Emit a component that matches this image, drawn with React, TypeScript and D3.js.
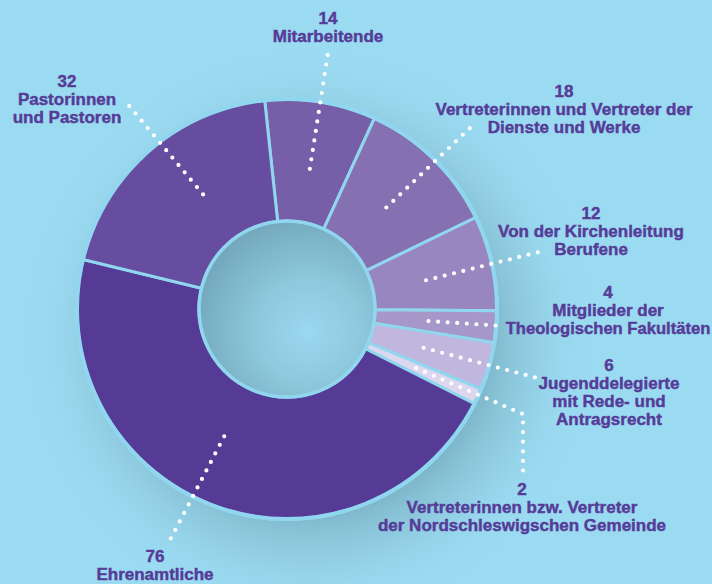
import React, { useEffect } from "react";
import * as d3 from "d3";

const categories = [
  "Mitarbeitende",
  "Vertreter Dienste und Werke",
  "Kirchenleitung",
  "Theologische Fakultäten",
  "Jugenddelegierte",
  "Nordschleswig",
  "Ehrenamtliche",
  "Pastoren",
];
const values = [14, 18, 12, 4, 6, 2, 76, 32];
const labelLines: string[][] = [
  ["14", "Mitarbeitende"],
  ["18", "Vertreterinnen und Vertreter der", "Dienste und Werke"],
  ["12", "Von der Kirchenleitung", "Berufene"],
  ["4", "Mitglieder der", "Theologischen Fakultäten"],
  ["6", "Jugenddelegierte", "mit Rede- und", "Antragsrecht"],
  ["2", "Vertreterinnen bzw. Vertreter", "der Nordschleswigschen Gemeinde"],
  ["76", "Ehrenamtliche"],
  ["32", "Pastorinnen", "und Pastoren"],
];
const colors = ["#765ea9", "#8571b2", "#9886c0", "#a697c9", "#c1b6dd", "#dcd6ee", "#553a96", "#674d9f"];

// layout (label anchor positions, leader end points)
const labelPos: [number, number][] = [
  [328, 18], [564, 91], [591, 213], [608, 292], [609, 365], [522, 489], [155, 556], [67, 81],
];
const leaderEnd: [number, number][][] = [
  [[328, 53]], [[471, 127]], [[539, 252]], [[503, 326]], [[537, 378]], [[523, 414], [523, 472]], [[170, 540]], [[126, 102]],
];
const anchorAngleNudge = [0, 0, 1, 0, 0, 0, 6, 5];

const W = 712, H = 584;
const cx = 287, cy = 309;
const rOuter = 210, rInner = 88;

export default function App() {
  useEffect(() => {
    document.body.style.margin = "0";
  }, []);
  const startAngle = -6.1 * Math.PI / 180;
  const pie = d3.pie<number>().sort(null).value((d) => d)
    .startAngle(startAngle).endAngle(startAngle + 2 * Math.PI);
  const arcs = pie(values);
  const arc = d3.arc<d3.PieArcDatum<number>>().innerRadius(rInner).outerRadius(rOuter);
  const textColor = "#563c98";

  return (
    <svg width={W} height={H} style={{ display: "block", fontFamily: "Liberation Sans, Arial, sans-serif" }}>
      <defs>
        <radialGradient id="halo" cx={310} cy={335} r={290} gradientUnits="userSpaceOnUse">
          <stop offset="0.6" stopColor="#7cb4c7" stopOpacity={1} />
          <stop offset="0.78" stopColor="#8cc7db" stopOpacity={0.6} />
          <stop offset="1" stopColor="#9bdbf2" stopOpacity={0} />
        </radialGradient>
        <radialGradient id="hole" cx={22} cy={22} r={115} gradientUnits="userSpaceOnUse">
          <stop offset="0" stopColor="#9ad8f0" />
          <stop offset="0.45" stopColor="#8dc8dd" />
          <stop offset="1" stopColor="#74a9bd" />
        </radialGradient>
      </defs>
      <rect width={W} height={H} fill="#9bdbf2" />
      <circle cx={310} cy={335} r={290} fill="url(#halo)" />
      <g transform={`translate(${cx},${cy})`}>
        <circle r={rOuter + 2} fill="#91d6ef" />
        {arcs.map((a, i) => (
          <path key={categories[i]} d={arc(a) || ""} fill={colors[i]} stroke="#91d6ef" strokeWidth={3} strokeLinejoin="miter" />
        ))}
        <circle r={rOuter} fill="none" stroke="#91d6ef" strokeWidth={4} />
        <circle r={rInner} fill="url(#hole)" stroke="#91d6ef" strokeWidth={3.5} />
      </g>
      {arcs.map((a, i) => {
        const mid = (a.startAngle + a.endAngle) / 2 + (anchorAngleNudge[i] * Math.PI) / 180;
        const r = 142;
        const ax = cx + r * Math.sin(mid);
        const ay = cy - r * Math.cos(mid);
        const pts: [number, number][] = [[ax, ay], ...leaderEnd[i]];
        const line = d3.line()(pts) || "";
        return (
          <path key={"l" + i} d={line} fill="none" stroke="#ffffff" strokeWidth={4.2}
            strokeLinecap="round" strokeDasharray="0 9.6" />
        );
      })}
      {labelLines.map((lines, i) => (
        <text key={"t" + i} x={labelPos[i][0]} y={labelPos[i][1] + 6} textAnchor="middle"
          fill={textColor} stroke={textColor} strokeWidth={0.45} fontWeight="bold" fontSize={17}>
          {lines.map((ln, j) => (
            <tspan key={j} x={labelPos[i][0]} dy={j === 0 ? 0 : 18}
              fontSize={ln.length > 22 && i === 3 ? 16.6 : 17}>{ln}</tspan>
          ))}
        </text>
      ))}
    </svg>
  );
}
